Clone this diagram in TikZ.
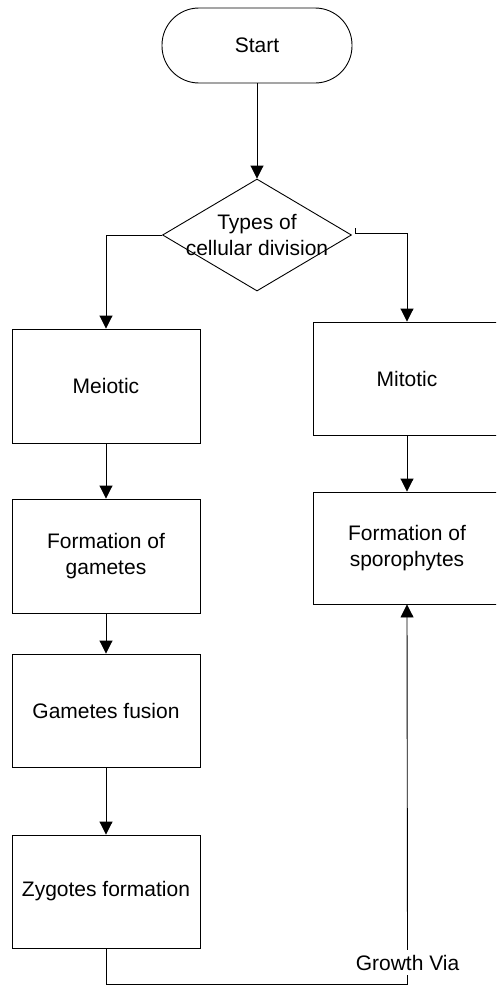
\documentclass[tikz,border=0pt]{standalone}
\usepackage{fontspec}
\setmainfont{Liberation Sans}
\usetikzlibrary{shapes.geometric,arrows.meta,calc}
\begin{document}
\begin{tikzpicture}[x=1pt,y=-1pt,
  font=\fontsize{21}{26}\selectfont,
  line width=0.9pt,
  box/.style={draw, rectangle, minimum width=188pt, inner sep=0pt, align=center},
  term/.style={draw, rectangle, rounded corners=37pt, minimum width=190pt, minimum height=75pt, inner sep=0pt},
  dec/.style={draw, diamond, minimum width=189pt, minimum height=112pt, inner sep=0pt},
  arr/.style={-{Triangle[width=13pt,length=13pt]}},
  ln/.style={draw}]
\useasboundingbox (0,0) rectangle (496,985);
\clip (0,0) rectangle (496,985);
\fill[white] (0,0) rectangle (496,985);

\node[term] (start) at (257,45.5) {Start};
\node[dec] (d) at (257,235) {};
\node[align=center, inner sep=0pt] (dt) at (257,235) {Types of\\cellular division};

\node[box, minimum height=114pt] (mei) at (106,386) {Meiotic};
\node[box, minimum height=114pt] (gam) at (106,556) {Formation of\\gametes};
\node[box, minimum height=113pt] (fus) at (106,710.5) {Gametes fusion};
\node[box, minimum height=113pt] (zyg) at (106,891.5) {Zygotes formation};

\node[box, minimum height=113pt] (mit) at (407,378.5) {Mitotic};
\node[box, minimum height=112pt] (spo) at (407,548) {Formation of\\sporophytes};

\node[fill=white, inner xsep=0pt, inner ysep=4.5pt] (gv) at (407.5,962.5) {Growth Via};

\draw[arr] (start.south) -- (d.north);
\draw[arr] (d.west) -| (mei.north);
\coordinate (rt) at ($(d.east)+(3,-7)$);
\draw[arr] (rt) -- ++(0,5) -| (mit.north);
\draw[arr] (mei.south) -- (gam.north);
\draw[arr] (gam.south) -- (fus.north);
\draw[arr] (fus.south) -- (zyg.north);
\draw[arr] (mit.south) -- (spo.north);
\draw (zyg.south) -- ++(0,36) -| (gv.south);
\draw[arr] (gv.north) -- (spo.south);
\end{tikzpicture}
\end{document}
